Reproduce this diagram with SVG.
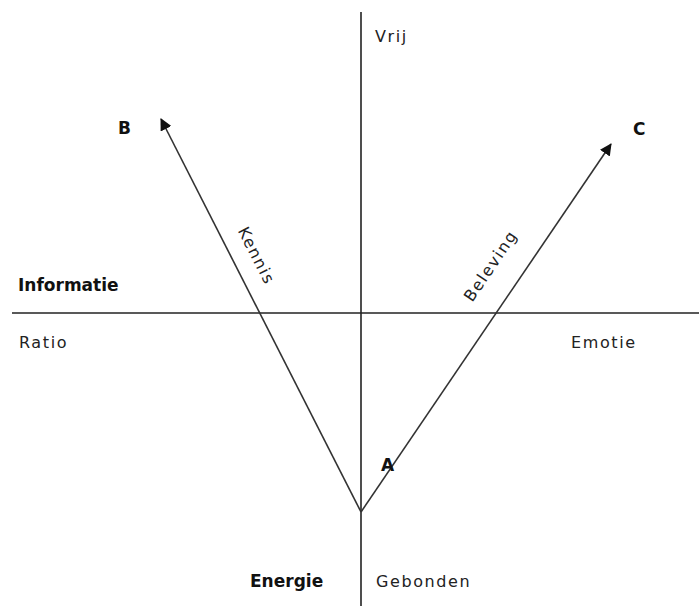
<svg xmlns="http://www.w3.org/2000/svg" width="699" height="606" viewBox="0 0 699 606">
<style>
.t{font-family:"DejaVu Sans","Liberation Sans",sans-serif;font-size:16px;fill:#222;letter-spacing:1.6px}
.b{font-family:"DejaVu Sans","Liberation Sans",sans-serif;font-size:17px;font-weight:bold;fill:#111}
.ax{stroke:#222;stroke-width:1.6;fill:none}
.ar{stroke:#333;stroke-width:1.6;fill:none;marker-end:url(#ah)}
</style>
<defs>
<marker id="ah" markerWidth="12" markerHeight="12" refX="11" refY="6" orient="auto" markerUnits="userSpaceOnUse" viewBox="0 0 12 12">
<path d="M0,0 L12,6 L0,12 z" fill="#111"/>
</marker>
</defs>
<rect width="699" height="606" fill="#fff"/>
<g id="connectors">
<line class="ax" x1="361" y1="12" x2="361" y2="606"/>
<line class="ax" x1="12" y1="313" x2="699" y2="313"/>
<line class="ar" x1="361" y1="512" x2="161" y2="119"/>
<line class="ar" x1="361" y1="512" x2="611" y2="144"/>
</g>
<g id="labels">
<text class="t" x="375" y="42">Vrij</text>
<text class="b" x="118" y="134">B</text>
<text class="b" x="633" y="135">C</text>
<text class="b" x="18" y="291">Informatie</text>
<text class="t" x="19" y="348">Ratio</text>
<text class="t" x="571" y="348">Emotie</text>
<text class="b" x="381" y="471" font-size="18">A</text>
<text class="b" x="250" y="587">Energie</text>
<text class="t" x="376" y="587">Gebonden</text>
<text class="t" transform="translate(256,256) rotate(63)" text-anchor="middle" y="5">Kennis</text>
<text class="t" transform="translate(491,266) rotate(-56)" text-anchor="middle" y="5">Beleving</text>
</g>
</svg>
